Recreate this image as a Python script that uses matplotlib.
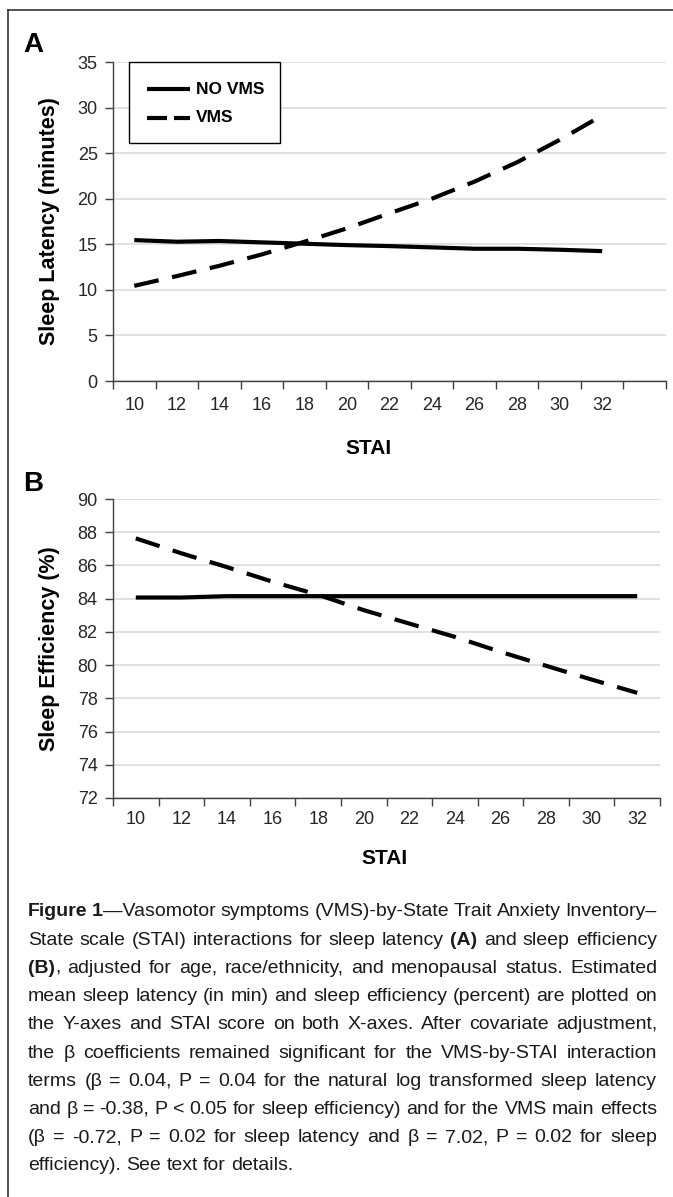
import matplotlib
matplotlib.use('Agg')
import matplotlib.pyplot as plt
from matplotlib.lines import Line2D
from matplotlib.patches import Rectangle
from matplotlib.transforms import Affine2D
from matplotlib import font_manager
import numpy as np

# ---------------- data ----------------
stai = [10, 12, 14, 16, 18, 20, 22, 24, 26, 28, 30, 32]
series_labels = ['NO VMS', 'VMS']

latency_no_vms = [15.46, 15.28, 15.36, 15.21, 15.06, 14.91, 14.80, 14.66, 14.51, 14.51, 14.40, 14.25]
latency_vms = [10.44, 11.51, 12.64, 13.89, 15.28, 16.75, 18.40, 20.01, 21.88, 24.00, 26.46, 29.13]
latency_yticks = [0, 5, 10, 15, 20, 25, 30, 35]
latency_ncat = 13   # Excel category axis with one empty slot at the end

efficiency_no_vms = [84.07, 84.07, 84.15, 84.15, 84.15, 84.15, 84.15, 84.15, 84.15, 84.15, 84.15, 84.15]
efficiency_vms = [87.63, 86.73, 85.90, 85.02, 84.23, 83.31, 82.50, 81.70, 80.80, 79.96, 79.13, 78.33]
efficiency_yticks = [72, 74, 76, 78, 80, 82, 84, 86, 88, 90]
efficiency_ncat = 12

caption_lines = [
    "**Figure 1**\u2014Vasomotor symptoms (VMS)-by-State Trait Anxiety Inventory\u2013",
    "State scale (STAI) interactions for sleep latency **(A)** and sleep efficiency",
    "**(B)**, adjusted for age, race/ethnicity, and menopausal status. Estimated",
    "mean sleep latency (in min) and sleep efficiency (percent) are plotted on",
    "the Y-axes and STAI score on both X-axes. After covariate adjustment,",
    "the \u03b2 coefficients remained significant for the VMS-by-STAI interaction",
    "terms (\u03b2 = 0.04, P = 0.04 for the natural log transformed sleep latency",
    "and \u03b2 = -0.38, P < 0.05 for sleep efficiency) and for the VMS main effects",
    "(\u03b2 = -0.72, P = 0.02 for sleep latency and \u03b2 = 7.02, P = 0.02 for sleep",
    "efficiency). See text for details.",
]

# ---------------- figure ----------------
plt.rcParams['font.family'] = ['Liberation Sans', 'DejaVu Sans']
available = {f.name for f in font_manager.fontManager.ttflist}
if 'Liberation Sans Narrow' in available:
    TICK_FAMILY, TICK_FS = ['Liberation Sans Narrow', 'Liberation Sans'], 14.5
else:
    TICK_FAMILY, TICK_FS = ['Liberation Sans', 'DejaVu Sans'], 13

W, H = 673, 1197
fig = plt.figure(figsize=(W / 100, H / 100), dpi=100)
fig.patch.set_facecolor('white')
# pixel transform: (x from left, y from top)
pix = Affine2D().scale(1 / W, -1 / H).translate(0, 1) + fig.transFigure

INK = '#262626'
SPINE = '#404040'
GRID = '#d9d9d9'
LW = 3.0
DASH = (0, (6.0, 3.3))


def px_axes(l, t, r, b):
    return fig.add_axes([l / W, 1 - b / H, (r - l) / W, (b - t) / H])


def setup(ax, ncat, yticks, xpad):
    ax.set_xlim(-0.5, ncat - 0.5)
    ax.set_ylim(yticks[0], yticks[-1])
    ax.set_xticks(np.arange(ncat + 1) - 0.5)
    ax.set_xticklabels([])
    ax.set_xticks(np.arange(len(stai)), minor=True)
    ax.set_xticklabels([str(v) for v in stai], minor=True)
    ax.tick_params(axis='x', which='major', length=6, width=1.0, color=SPINE, direction='out')
    ax.tick_params(axis='x', which='minor', length=0, pad=xpad, labelsize=TICK_FS, labelcolor=INK)
    ax.set_yticks(yticks)
    ax.set_yticklabels([str(v) for v in yticks])
    ax.tick_params(axis='y', length=6, width=1.0, color=SPINE, direction='out', pad=5,
                   labelsize=TICK_FS, labelcolor=INK)
    for lab in ax.get_xticklabels(minor=True) + ax.get_yticklabels():
        lab.set_family(TICK_FAMILY)
    ax.grid(axis='y', color=GRID, lw=1.1)
    ax.set_axisbelow(True)
    for s in ['top', 'right']:
        ax.spines[s].set_visible(False)
    for s in ['left', 'bottom']:
        ax.spines[s].set_color(SPINE)
        ax.spines[s].set_linewidth(1.0)
        ax.spines[s].set_zorder(4)


xpos = np.arange(len(stai))

# ---------- Panel A ----------
axA = px_axes(113, 62, 666, 381)
setup(axA, latency_ncat, latency_yticks, xpad=11.5)
axA.plot(xpos, latency_no_vms, color='black', lw=LW, solid_capstyle='butt', zorder=3)
axA.plot(xpos, latency_vms, color='black', lw=LW, linestyle=DASH, dash_capstyle='butt', zorder=3)

# legend box
axA.add_artist(Rectangle((129, 62), 151, 81, transform=pix, facecolor='white',
                         edgecolor='black', lw=1.0, zorder=6, clip_on=False))
axA.add_artist(Line2D([147, 190], [89, 89], transform=pix, color='black', lw=LW,
                      solid_capstyle='butt', zorder=7, clip_on=False))
axA.add_artist(Line2D([147, 190], [118, 118], transform=pix, color='black', lw=LW,
                      linestyle=(0, (4.8, 1.68)), dash_capstyle='butt', zorder=7, clip_on=False))
axA.text(196, 89, series_labels[0], transform=pix, fontsize=12.5, fontweight='bold',
         va='center', ha='left', color='black', zorder=8)
axA.text(196, 118, series_labels[1], transform=pix, fontsize=12.5, fontweight='bold',
         va='center', ha='left', color='black', zorder=8)

fig.text(50, 221, 'Sleep Latency (minutes)', transform=pix, rotation=90, ha='center',
         va='center', fontsize=15.5, fontweight='bold', color='black')
fig.text(368, 454.5, 'STAI', transform=pix, ha='center', va='baseline', fontsize=15,
         fontweight='bold', color='black')
fig.text(33, 52, 'A', transform=pix, ha='center', va='baseline', fontsize=20,
         fontweight='bold', color='black')

# ---------- Panel B ----------
axB = px_axes(113, 499, 660, 798)
setup(axB, efficiency_ncat, efficiency_yticks, xpad=9.5)
axB.plot(xpos, efficiency_no_vms, color='black', lw=LW, solid_capstyle='butt', zorder=3)
axB.plot(xpos, efficiency_vms, color='black', lw=LW, linestyle=DASH, dash_capstyle='butt', zorder=3)

fig.text(50, 649, 'Sleep Efficiency (%)', transform=pix, rotation=90, ha='center',
         va='center', fontsize=15.5, fontweight='bold', color='black')
fig.text(384, 863.5, 'STAI', transform=pix, ha='center', va='baseline', fontsize=15,
         fontweight='bold', color='black')
fig.text(33, 491, 'B', transform=pix, ha='center', va='baseline', fontsize=20,
         fontweight='bold', color='black')

# ---------- border ----------
fig.add_artist(Line2D([7.5, 7.5], [10, H + 5], transform=pix, color='#222222', lw=1.1))
fig.add_artist(Line2D([7.5, W + 5], [10, 10], transform=pix, color='#222222', lw=1.1))

# ---------- caption (justified) ----------
CAP_FS = 14
CAP_L, CAP_R = 28, 657
BASE0, LSTEP = 916.5, 28.2
renderer = fig.canvas.get_renderer()


def parse(line):
    words, cur, buf, bold, i = [], [], '', False, 0
    while i < len(line):
        if line.startswith('**', i):
            if buf:
                cur.append((buf, bold))
                buf = ''
            bold = not bold
            i += 2
            continue
        ch = line[i]
        if ch == ' ':
            if buf:
                cur.append((buf, bold))
                buf = ''
            if cur:
                words.append(cur)
                cur = []
        else:
            buf += ch
        i += 1
    if buf:
        cur.append((buf, bold))
    if cur:
        words.append(cur)
    return words


space_w = 0.278 * CAP_FS * 100 / 72
for li, line in enumerate(caption_lines):
    y = BASE0 + li * LSTEP
    words = parse(line)
    arts = []
    widths = []
    for w in words:
        runs = []
        ww = 0
        for s, b in w:
            t = fig.text(0, y, s, transform=pix, fontsize=CAP_FS,
                         fontweight='bold' if b else 'normal', ha='left',
                         va='baseline', color='#1a1a1a')
            rw = t.get_window_extent(renderer).width
            runs.append((t, rw))
            ww += rw
        arts.append(runs)
        widths.append(ww)
    last = li == len(caption_lines) - 1
    if last or len(words) < 2:
        gap = space_w
    else:
        gap = (CAP_R - CAP_L - sum(widths)) / (len(words) - 1)
    x = CAP_L
    for runs, ww in zip(arts, widths):
        xx = x
        for t, rw in runs:
            t.set_x(xx)
            xx += rw
        x += ww + gap

fig.savefig('out.png', dpi=100, facecolor='white')
